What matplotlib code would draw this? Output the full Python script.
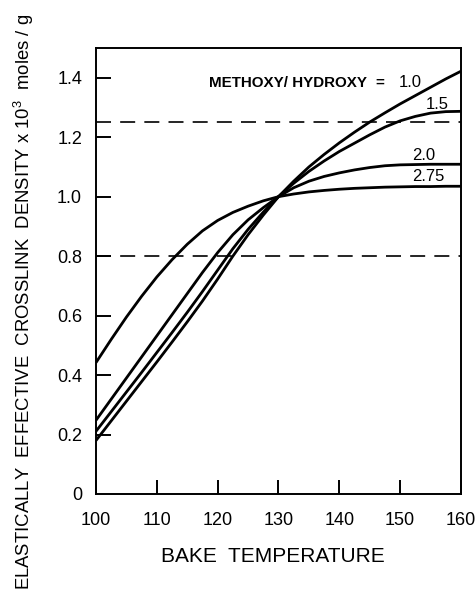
import matplotlib
matplotlib.use("Agg")
import matplotlib.pyplot as plt

plt.rcParams["font.family"] = ["Liberation Sans", "DejaVu Sans"]
plt.rcParams["mathtext.fontset"] = "custom"
plt.rcParams["mathtext.rm"] = "Liberation Sans"

# Bake temperatures and crosslink density (x 10^3 moles/g) per methoxy/hydroxy ratio
temps = [100, 102.5, 105, 107.5, 110, 112.5, 115, 117.5, 120, 122.5, 125, 127.5, 130,
         132.5, 135, 137.5, 140, 142.5, 145, 147.5, 150, 152.5, 155, 157.5, 160]

ratio_labels = ["1.0", "1.5", "2.0", "2.75"]

density_10 = [0.18, 0.246, 0.312, 0.378, 0.444, 0.511, 0.579, 0.649, 0.723, 0.80, 0.872, 0.938, 1.0,
              1.052, 1.10, 1.142, 1.181, 1.217, 1.251, 1.282, 1.312, 1.34, 1.368, 1.396, 1.422]
density_15 = [0.211, 0.277, 0.343, 0.409, 0.476, 0.543, 0.611, 0.681, 0.753, 0.825, 0.89, 0.948, 1.0,
              1.045, 1.085, 1.12, 1.152, 1.18, 1.208, 1.234, 1.255, 1.27, 1.281, 1.286, 1.287]
density_20 = [0.248, 0.319, 0.39, 0.461, 0.532, 0.603, 0.674, 0.745, 0.812, 0.872, 0.922, 0.963, 1.0,
              1.03, 1.052, 1.068, 1.08, 1.09, 1.098, 1.104, 1.107, 1.108, 1.109, 1.109, 1.109]
density_275 = [0.442, 0.52, 0.595, 0.665, 0.73, 0.788, 0.84, 0.885, 0.92, 0.947, 0.968, 0.986, 1.0,
               1.009, 1.016, 1.021, 1.025, 1.028, 1.03, 1.032, 1.033, 1.034, 1.034, 1.035, 1.035]

reference_levels = [0.8, 1.25]

x_ticks = [100, 110, 120, 130, 140, 150, 160]
y_ticks = [0, 0.2, 0.4, 0.6, 0.8, 1.0, 1.2, 1.4]
y_tick_labels = ["0", "0.2", "0.4", "0.6", "0.8", "1.0", "1.2", "1.4"]

series = [density_10, density_15, density_20, density_275]

fig = plt.figure(figsize=(4.75, 5.99), dpi=100)
ax = fig.add_axes([96 / 475, 1 - 494 / 599, 365 / 475, 446 / 599])

for vals in series:
    ax.plot(temps, vals, color="black", lw=2.0, solid_capstyle="butt", solid_joinstyle="round")

for lvl in reference_levels:
    ax.axhline(lvl, color="black", lw=1.2, linestyle=(0, (9, 5.5)))

ax.set_xlim(100, 160)
ax.set_ylim(0, 1.5)

for s in ax.spines.values():
    s.set_linewidth(1.4)

ax.set_xticks(x_ticks)
ax.set_yticks(y_ticks)
ax.set_yticklabels(y_tick_labels)
ax.tick_params(axis="x", direction="in", length=10, width=1.4, pad=13, labelsize=13)
ax.tick_params(axis="y", direction="in", length=11, width=1.4, pad=10, labelsize=13)
# hide tick marks that coincide with the frame
for t in ax.xaxis.get_major_ticks():
    if t.get_loc() in (100, 160):
        t.tick1line.set_visible(False)
for t in ax.yaxis.get_major_ticks():
    if t.get_loc() == 0:
        t.tick1line.set_visible(False)

# curve annotations
ax.text(118.6, 1.383, "METHOXY/ HYDROXY", fontsize=10.9, fontweight="bold", va="center", ha="left")
ax.text(146.6, 1.383, "=", fontsize=11, fontweight="bold", va="center", ha="center")
ax.text(153.6, 1.383, ratio_labels[0], fontsize=12, va="center", ha="right")
ax.text(156.1, 1.309, ratio_labels[1], fontsize=12, va="center", ha="center")
ax.text(153.8, 1.138, ratio_labels[2], fontsize=12, va="center", ha="center")
ax.text(154.6, 1.067, ratio_labels[3], fontsize=12, va="center", ha="center")

fig.text(273 / 475, 1 - 557 / 599, "BAKE  TEMPERATURE", fontsize=15, ha="center", va="center")
fig.text(24 / 475, 1 - 302 / 599,
         r"ELASTICALLY  EFFECTIVE  CROSSLINK  DENSITY x 10$^{\mathrm{3}}$  moles / g",
         fontsize=13.3, rotation=90, ha="center", va="center")

fig.savefig("out.png", dpi=100)
